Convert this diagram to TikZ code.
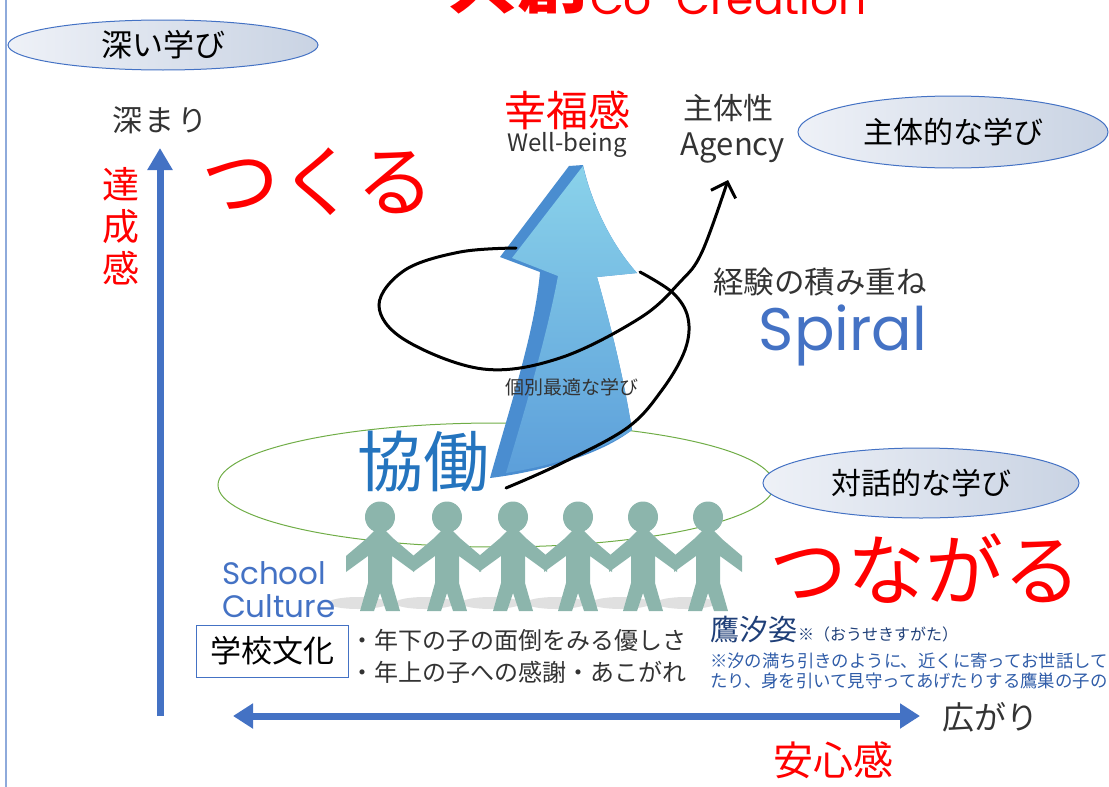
\documentclass[tikz,border=0pt]{standalone}
\usepackage{fontspec}
\setmainfont{Noto Sans CJK JP}
\newfontfamily\geo{Poppins}
\usetikzlibrary{shapes.geometric,arrows.meta}
\newcommand\fsz[1]{\fontsize{#1}{#1}\selectfont}
\definecolor{axisblue}{HTML}{4472C4}
\definecolor{linkblue}{HTML}{4472C4}
\definecolor{kyodo}{HTML}{2474BE}
\definecolor{ink}{HTML}{333333}
\definecolor{bubL}{HTML}{EEF1F7}
\definecolor{bubR}{HTML}{C9D3E3}
\definecolor{arrowdark}{HTML}{4A8DD0}
\definecolor{arrowtop}{HTML}{8AD2EA}
\definecolor{arrowbot}{HTML}{5C9FDA}
\definecolor{people}{HTML}{8CB5AC}
\definecolor{navy}{HTML}{1F3F78}
\definecolor{notes}{HTML}{2F5CA8}
\begin{document}
\begin{tikzpicture}[x=1pt,y=-1pt,
  every node/.style={inner sep=0pt, outer sep=0pt},
  bubble/.style={ellipse, draw=axisblue, line width=1pt, shading=axis,
    left color=bubL, right color=bubR, font=\fsz{30}, text=black},
  redword/.style={text=red},
  inkword/.style={text=ink},
  axisarrow/.style={line width=7pt, draw=axisblue},
  spiralline/.style={line width=3pt, line cap=round, black},
  figure/.style={fill=people},
  shadowblob/.style={fill=black!22, opacity=0.55}
]
\useasboundingbox (0,0) rectangle (1109,787);
\clip (0,0) rectangle (1109,787);

% left margin rule
\draw[line width=2pt, color={rgb,255:red,142;green,170;blue,219}] (6,0) -- (6,787);

% title
\node[anchor=base, redword, font=\fsz{70}\bfseries] (title) at (517,8) {共創};
\node[anchor=base west, redword, font=\geo\fsz{44}] (titleen) at (590,15) {Co-Creation};

% learning bubbles
\node[bubble, font=\fsz{31}, minimum width=310pt, minimum height=50pt] (deep) at (163,45) {深い学び};
\node[bubble, minimum width=310pt, minimum height=72pt] (agent) at (953,132) {主体的な学び};

% vertical axis
\coordinate (vbot) at (160,716);
\coordinate (vtop) at (160,148);
\draw[axisarrow, -{Triangle[length=22pt,width=24pt]}] (vbot) -- (vtop);
\node[inkword, font=\fsz{30}\addfontfeatures{LetterSpace=8}] (fukamari) at (160,120) {深まり};
\node[redword, align=center, font=\fontsize{37}{42}\selectfont] (tassei) at (121,226) {達\\成\\感};
\node[redword, font=\fsz{78}] (tsukuru) at (318,182) {つくる};

% green ring of collaboration
\draw[color={rgb,255:red,112;green,173;blue,71}, line width=1pt] (496,485) ellipse [x radius=278, y radius=62];

% big rising arrow
\path[fill=arrowdark] (569,166) -- (583,165)
  .. controls (592,205) and (612,245) .. (637,273)
  -- (597,277)
  .. controls (612,330) and (624,380) .. (632,430)
  .. controls (600,455) and (540,472) .. (490,478)
  .. controls (512,400) and (535,330) .. (540,272)
  -- (500,257) -- cycle;
\shade[top color=arrowtop, bottom color=arrowbot] (583,166)
  .. controls (592,205) and (612,245) .. (637,273)
  -- (597,277)
  .. controls (612,330) and (624,380) .. (632,430)
  .. controls (600,452) and (550,466) .. (506,473)
  .. controls (528,400) and (548,330) .. (558,276)
  -- (512,258) -- cycle;

% spiral of experience
\draw[spiralline] plot[smooth, tension=0.6] coordinates
  {(506,488) (560,464) (627,428) (662,390) (685,350) (688,318) (673,293) (640,272)};
\draw[spiralline, -{Straight Barb[length=13pt,width=26pt]}] plot[smooth, tension=0.6] coordinates
  {(516,248) (460,252) (405,270) (379,305) (405,340) (483,369) (560,358) (640,318) (680,282) (702,252) (728,180)};

% upper labels
\node[redword, font=\fsz{42}] (kofuku) at (567,110) {幸福感};
\node[inkword, font=\fsz{24}] (wellbeing) at (567,145) {Well-being};
\node[inkword, font=\fsz{30}] (shutaisei) at (728,108) {主体性};
\node[inkword, font=\fsz{31}] (agency) at (733,148) {Agency};
\node[inkword, font=\fsz{30.5}] (keiken) at (820,282) {経験の積み重ね};
\node[text=linkblue, font=\geo\fsz{60}] (spiral) at (843,335) {Spiral};
\node[inkword, font=\fsz{19}] (kobetsu) at (572,387) {個別最適な学び};
\node[text=kyodo, font=\fsz{66}] (kyodo) at (423,462) {協働};
\node[bubble, minimum width=316pt, minimum height=70pt] (taiwa) at (921,483) {対話的な学び};

% paper-chain children
\foreach \cx in {380,447,513,578,643,708} {
  \fill[shadowblob] (\cx-22,603) ellipse [x radius=30, y radius=6];
}
\foreach \cx in {380,447,513,578,643,708} {
  \fill[figure] (\cx,517) ellipse [x radius=15, y radius=15.5];
  \fill[figure] (\cx-5,530) -- (\cx-14,539) -- (\cx-34,556) -- (\cx-34,572)
    -- (\cx-12,556) -- (\cx-12,583) -- (\cx-20,611) -- (\cx-6,611) -- (\cx,593)
    -- (\cx+6,611) -- (\cx+20,611) -- (\cx+12,583) -- (\cx+12,556)
    -- (\cx+34,572) -- (\cx+34,556) -- (\cx+14,539) -- (\cx+5,530) -- cycle;
}

\node[text=linkblue, font=\geo\fsz{31}, anchor=west] (school) at (222,573) {School};
\node[text=linkblue, font=\geo\fsz{31}, anchor=west] (culture) at (222,606) {Culture};
\node[redword, font=\fsz{78}] (tsunagaru) at (925,568) {つながる};

% school culture box and notes
\node[draw=axisblue, line width=1pt, minimum width=152pt, minimum height=52pt,
  font=\fsz{31}, text=black] (gakko) at (272,651) {学校文化};
\node[inkword, font=\fsz{24}, anchor=west] (bullet1) at (350,640) {・年下の子の面倒をみる優しさ};
\node[inkword, font=\fsz{24}, anchor=west] (bullet2) at (350,672) {・年上の子への感謝・あこがれ};
\node[text=navy, font=\fsz{29}, anchor=west] (ousei) at (710,630) {鷹汐姿};
\node[text=navy, font=\fsz{16}, anchor=west] (yomi) at (798,634) {※（おうせきすがた）};
\node[text=notes, font=\fsz{17.4}, anchor=west] (note1) at (710,661) {※汐の満ち引きのように、近くに寄ってお世話して};
\node[text=notes, font=\fsz{17.4}, anchor=west] (note2) at (710,681) {たり、身を引いて見守ってあげたりする鷹巣の子の};

% horizontal axis
\coordinate (hleft) at (233,716);
\coordinate (hright) at (920,716);
\draw[axisarrow, {Triangle[length=20pt,width=24pt]}-{Triangle[length=20pt,width=24pt]}] (hleft) -- (hright);
\node[inkword, font=\fsz{32}] (hirogari) at (990,717) {広がり};
\node[redword, font=\fsz{40}] (anshin) at (833,760) {安心感};
\end{tikzpicture}
\end{document}
